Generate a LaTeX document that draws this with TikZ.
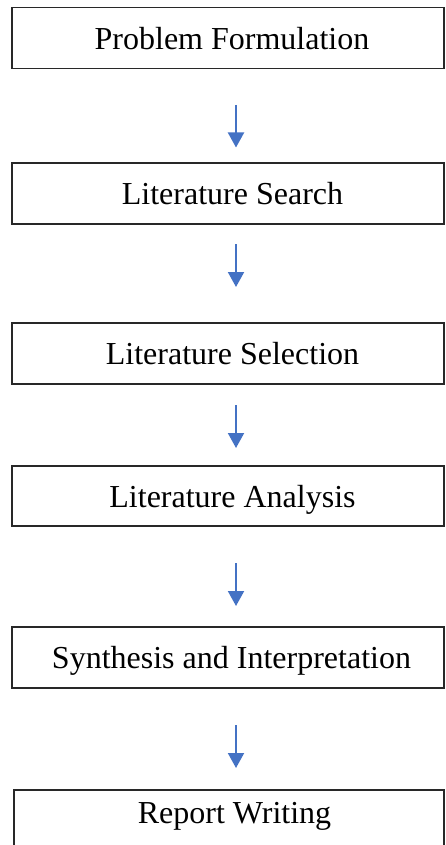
\documentclass[tikz,border=0pt]{standalone}
\usepackage{fontspec}
\setmainfont{Liberation Serif}
\usetikzlibrary{arrows.meta}
\definecolor{arrblue}{RGB}{68,114,196}
\definecolor{boxline}{RGB}{40,40,40}
\tikzset{
  stagebox/.style={draw=boxline, line width=1.1pt, rectangle, inner sep=0pt, minimum width=432pt},
  stagetext/.style={font=\fontsize{32}{36}\selectfont, inner sep=0pt, text height=21.2pt, text depth=0pt, anchor=center},
  flowarrow/.style={draw=arrblue, line width=2pt, -{Triangle[width=16pt,length=15pt]}, arrblue}
}
\begin{document}
\begin{tikzpicture}[x=1pt,y=-1pt]
\useasboundingbox (0,0) rectangle (445,845);
% boxes
\node[stagebox, minimum height=61pt] (b1) at (228,38) {};
\node[stagebox, minimum height=61pt] (b2) at (228,193.5) {};
\node[stagebox, minimum height=61pt] (b3) at (228,353.5) {};
\node[stagebox, minimum height=60pt] (b4) at (228,496) {};
\node[stagebox, minimum height=61pt] (b5) at (228,657.5) {};
\node[stagebox, minimum width=430pt, minimum height=70pt] (b6) at (229,825) {};
% texts
\node[stagetext] (t1) at (232,38.5) {Problem Formulation};
\node[stagetext] (t2) at (232.5,194) {Literature Search};
\node[stagetext] (t3) at (232.5,354) {Literature Selection};
\node[stagetext] (t4) at (232.5,496.5) {Literature Analysis};
\node[stagetext] (t5) at (231.5,658) {Synthesis and Interpretation};
\node[stagetext] (t6) at (234.5,813) {Report Writing};
% arrow end points
\coordinate (a1s) at (236,105);  \coordinate (a1e) at (236,147.5);
\coordinate (a2s) at (236,244);  \coordinate (a2e) at (236,287);
\coordinate (a3s) at (236,405);  \coordinate (a3e) at (236,448);
\coordinate (a4s) at (236,563);  \coordinate (a4e) at (236,606);
\coordinate (a5s) at (236,725);  \coordinate (a5e) at (236,768);
\draw[flowarrow] (a1s) -- (a1e);
\draw[flowarrow] (a2s) -- (a2e);
\draw[flowarrow] (a3s) -- (a3e);
\draw[flowarrow] (a4s) -- (a4e);
\draw[flowarrow] (a5s) -- (a5e);
\end{tikzpicture}
\end{document}
